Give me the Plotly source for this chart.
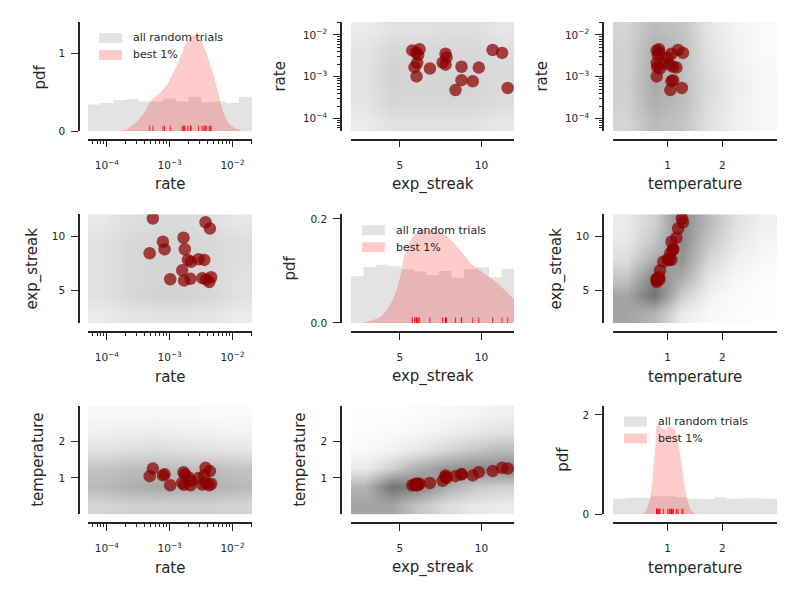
import plotly.graph_objects as go

W, H = 797, 598

variables = ['rate', 'exp_streak', 'temperature']

# best 1% of the random trials
best_rate = [4.27e-3, 4.57e-3, 3.31e-3, 2.14e-3, 1.70e-3, 1.02e-3, 1.58e-3, 3.55e-3, 2.88e-3, 2.19e-3,
             1.95e-3, 1.74e-3, 8.3e-4, 4.8e-4, 7.8e-4, 1.66e-3, 4.37e-3, 3.72e-3, 5.4e-4, 3.8e-3]
best_streak = [5.76, 6.20, 6.12, 6.06, 5.90, 6.02, 6.84, 7.80, 7.86, 7.62,
               7.80, 8.78, 8.78, 8.41, 9.47, 9.84, 10.69, 11.27, 11.61, 6.00]
best_temp = [0.80, 0.84, 0.82, 0.80, 0.81, 0.80, 0.86, 1.07, 1.00, 0.92,
             1.03, 1.10, 1.10, 1.05, 1.07, 1.16, 1.19, 1.28, 1.26, 0.85]

# histograms of all random trials (bin edges + pdf heights)
rate_bins = [5.0e-5, 7.9e-5, 1.26e-4, 2.0e-4, 3.16e-4, 5.0e-4, 7.9e-4, 1.26e-3,
             2.0e-3, 3.16e-3, 5.0e-3, 7.9e-3, 1.26e-2, 2.04e-2]
rate_hist = [0.34, 0.36, 0.40, 0.41, 0.38, 0.38, 0.42, 0.38, 0.44, 0.37, 0.38, 0.36, 0.44]
streak_bins = [2.0, 2.77, 3.54, 4.31, 5.08, 5.85, 6.62, 7.38, 8.15, 8.92, 9.69, 10.46, 11.23, 12.0]
streak_hist = [0.090, 0.107, 0.112, 0.109, 0.103, 0.099, 0.092, 0.100, 0.087, 0.103, 0.107, 0.088, 0.104]
temp_bins = [0.0, 0.23, 0.46, 0.69, 0.92, 1.15, 1.38, 1.62, 1.85, 2.08, 2.31, 2.54, 2.77, 3.0]
temp_hist = [0.31, 0.33, 0.33, 0.36, 0.36, 0.34, 0.31, 0.30, 0.34, 0.31, 0.32, 0.32, 0.31]

# kde of the best 1%
kde_rate_x = [1.45e-4, 2.0e-4, 2.69e-4, 3.89e-4, 5.13e-4, 6.92e-4, 8.91e-4, 1.12e-3, 1.45e-3, 1.74e-3, 2.09e-3,
              2.51e-3, 3.02e-3, 3.80e-3, 4.90e-3, 5.62e-3, 6.76e-3, 8.13e-3, 1.05e-2, 1.35e-2, 1.51e-2]
kde_rate_y = [0.0, 0.02, 0.09, 0.23, 0.40, 0.49, 0.59, 0.74, 0.93, 1.10, 1.20,
              1.23, 1.18, 1.01, 0.74, 0.57, 0.31, 0.14, 0.046, 0.012, 0.0]
kde_streak_x = [2.7, 3.3, 3.84, 4.45, 4.86, 5.06, 5.27, 5.55, 5.96, 6.37, 6.98,
                7.59, 8.2, 8.82, 9.43, 9.96, 10.5, 10.98, 11.5, 12.0]
kde_streak_y = [0.0, 0.005, 0.013, 0.038, 0.07, 0.096, 0.128, 0.152, 0.172, 0.178, 0.178,
                0.173, 0.157, 0.135, 0.113, 0.100, 0.088, 0.077, 0.061, 0.045]
kde_temp_x = [0.52, 0.60, 0.65, 0.69, 0.72, 0.75, 0.78, 0.80, 0.83, 0.87, 0.90, 0.96,
              1.00, 1.04, 1.10, 1.14, 1.18, 1.23, 1.27, 1.33, 1.38, 1.42, 1.48, 1.54]
kde_temp_y = [0.0, 0.07, 0.2, 0.40, 0.7, 1.04, 1.5, 1.78, 1.83, 1.78, 1.72, 1.71,
              1.74, 1.77, 1.75, 1.68, 1.52, 1.2, 0.91, 0.44, 0.22, 0.10, 0.03, 0.0]

# density of the grey cloud of all trials (0 = white, 1 = darkest), on coarse cells
rate_cells = [5.0e-5, 1.35e-4, 3.7e-4, 1.0e-3, 2.7e-3, 7.4e-3, 2.04e-2]
streak_cells = [2.0, 3.7, 5.3, 7.0, 8.7, 10.3, 12.0]
temp_cells = [0.0, 0.5, 1.0, 1.5, 2.0, 2.5, 3.0]
# rows: streak cells, cols: rate cells
rs_density = [[0.12, 0.16, 0.17, 0.17, 0.16, 0.12],
              [0.18, 0.24, 0.27, 0.27, 0.24, 0.18],
              [0.18, 0.24, 0.25, 0.25, 0.24, 0.18],
              [0.18, 0.24, 0.26, 0.25, 0.24, 0.20],
              [0.18, 0.24, 0.25, 0.25, 0.24, 0.20],
              [0.14, 0.20, 0.22, 0.22, 0.20, 0.15]]
# rows: temp cells, cols: rate cells
rt_density = [[0.25, 0.28, 0.28, 0.28, 0.28, 0.26],
              [0.42, 0.48, 0.52, 0.50, 0.48, 0.42],
              [0.36, 0.40, 0.40, 0.38, 0.40, 0.36],
              [0.18, 0.20, 0.22, 0.20, 0.18, 0.16],
              [0.09, 0.10, 0.11, 0.09, 0.08, 0.07],
              [0.04, 0.04, 0.05, 0.04, 0.03, 0.03]]
# rows: temp cells, cols: streak cells
st_density = [[0.55, 0.55, 0.35, 0.20, 0.14, 0.12],
              [0.45, 0.85, 0.75, 0.50, 0.35, 0.28],
              [0.12, 0.30, 0.50, 0.65, 0.70, 0.72],
              [0.04, 0.08, 0.15, 0.25, 0.35, 0.42],
              [0.02, 0.03, 0.05, 0.09, 0.14, 0.18],
              [0.01, 0.01, 0.02, 0.04, 0.06, 0.09]]


def T(m):
    return [list(r) for r in zip(*m)]


best = {'rate': best_rate, 'exp_streak': best_streak, 'temperature': best_temp}
hists = {'rate': (rate_bins, rate_hist), 'exp_streak': (streak_bins, streak_hist),
         'temperature': (temp_bins, temp_hist)}
kdes = {'rate': (kde_rate_x, kde_rate_y), 'exp_streak': (kde_streak_x, kde_streak_y),
        'temperature': (kde_temp_x, kde_temp_y)}
cells = {'rate': rate_cells, 'exp_streak': streak_cells, 'temperature': temp_cells}
dens = {('exp_streak', 'rate'): T(rs_density), ('temperature', 'rate'): T(rt_density),
        ('rate', 'exp_streak'): rs_density, ('temperature', 'exp_streak'): T(st_density),
        ('rate', 'temperature'): rt_density, ('exp_streak', 'temperature'): st_density}
pdf_top = {'rate': 1.40, 'exp_streak': 0.209, 'temperature': 2.19}
pdf_ticks = {'rate': ([0, 1], ['0', '1']), 'exp_streak': ([0, 0.2], ['0.0', '0.2']),
             'temperature': ([0, 2], ['0', '2'])}

# layout in picture pixels; page body has an 8px margin and the shot is squeezed a bit vertically
OFF = 8
SY = 0.99
FW, FH = W - OFF, 582


def fx(x):
    return (x - OFF) / FW


def fy(y):
    return 1 - (y / SY - OFF) / FH


col_x = [(88, 252), (351, 514), (613, 777)]
col_spine = [79, 341, 603]
row_y = [(20, 129.5), (213, 322), (405, 514)]
row_line = [138, 331, 523]

INK = '#262626'
FONT = 'DejaVu Sans'
GREY = 'rgb(227,227,227)'
PINK = 'rgba(255,0,0,0.2)'

log_minor = [m * 10.0 ** e for e in (-5, -4, -3, -2) for m in range(2, 10)]

fig = go.Figure()
layout = dict(width=FW, height=FH, margin=dict(l=0, r=0, t=0, b=0),
              paper_bgcolor='white', plot_bgcolor='white', showlegend=False,
              font=dict(family=FONT, color=INK))
annotations = []
shapes = []


def axis_style(var):
    a = dict(showline=True, linecolor=INK, linewidth=1.5, ticks='outside', ticklen=7,
             tickwidth=1.4, tickcolor=INK, showgrid=False, zeroline=False,
             tickfont=dict(size=10.5, family=FONT, color=INK))
    if var == 'rate':
        a.update(type='log', range=[-4.30, -1.69], tickvals=[1e-4, 1e-3, 1e-2],
                 ticktext=['10<sup>\u22124</sup>', '10<sup>\u22123</sup>', '10<sup>\u22122</sup>'],
                 minor=dict(ticks='outside', ticklen=3.5, tickwidth=1, tickcolor=INK,
                            tickmode='array', tickvals=log_minor, showgrid=False))
    elif var == 'exp_streak':
        a.update(range=[2, 12], tickvals=[5, 10])
    elif var == 'temperature':
        a.update(range=[0, 3], tickvals=[1, 2])
    return a


for r in range(3):
    for c in range(3):
        k = r * 3 + c + 1
        xs = '' if k == 1 else str(k)
        xv, yv = variables[c], variables[r]

        xa = axis_style(xv)
        xa.update(domain=[fx(col_x[c][0]), fx(col_x[c][1])], anchor='free',
                  position=fy(row_line[r]), ticklabelstandoff=9)
        if r == c:
            ya = axis_style('pdf')
            ya.update(range=[0, pdf_top[xv]], tickvals=pdf_ticks[xv][0], ticktext=pdf_ticks[xv][1])
        else:
            ya = axis_style(yv)
        ya.update(domain=[fy(row_y[r][1]), fy(row_y[r][0])], anchor='free',
                  position=fx(col_spine[c]), ticklabelstandoff=4)
        layout['xaxis' + xs] = xa
        layout['yaxis' + xs] = ya

        if r == c:
            edges, heights = hists[xv]
            fig.add_trace(go.Scatter(x=edges, y=heights + [heights[-1]], mode='lines',
                                     line=dict(shape='hv', width=0, color=GREY),
                                     fill='tozeroy', fillcolor=GREY,
                                     xaxis='x' + xs, yaxis='y' + xs, hoverinfo='skip'))
            kx, ky = kdes[xv]
            fig.add_trace(go.Scatter(x=kx, y=ky, mode='lines',
                                     line=dict(shape='spline', width=0, color=PINK),
                                     fill='tozeroy', fillcolor=PINK,
                                     xaxis='x' + xs, yaxis='y' + xs, hoverinfo='skip'))
            h = 0.05 * pdf_top[xv]
            rx, ry = [], []
            for v in best[xv]:
                rx += [v, v, None]
                ry += [0, h, None]
            fig.add_trace(go.Scatter(x=rx, y=ry, mode='lines',
                                     line=dict(color='rgba(255,0,0,0.75)', width=1.2),
                                     xaxis='x' + xs, yaxis='y' + xs, hoverinfo='skip'))
            # legend
            lx = col_x[c][0] + 11
            ly = row_y[r][0] + 11
            for i, (col, txt) in enumerate([(GREY, 'all random trials'), (PINK, 'best 1%')]):
                y0 = ly + i * 17
                shapes.append(dict(type='rect', xref='paper', yref='paper',
                                   x0=fx(lx), x1=fx(lx + 23), y0=fy(y0), y1=fy(y0 + 10),
                                   fillcolor=col, line=dict(width=0)))
                annotations.append(dict(x=fx(lx + 32), y=fy(y0 + 5), xref='paper', yref='paper',
                                        text=txt, showarrow=False, xanchor='left', yanchor='middle',
                                        font=dict(size=11, family=FONT, color=INK)))
        else:
            fig.add_trace(go.Heatmap(x=cells[xv], y=cells[yv], z=dens[(xv, yv)],
                                     zmin=0, zmax=1, zsmooth='best', showscale=False,
                                     colorscale=[[0, 'rgb(255,255,255)'], [1, 'rgb(90,90,90)']],
                                     xaxis='x' + xs, yaxis='y' + xs, hoverinfo='skip'))
            fig.add_trace(go.Scatter(x=best[xv], y=best[yv], mode='markers',
                                     marker=dict(size=12.5, color='rgb(139,0,0)', opacity=0.72,
                                                 line=dict(width=0)),
                                     xaxis='x' + xs, yaxis='y' + xs, hoverinfo='skip'))

        # x axis title
        annotations.append(dict(x=fx((col_x[c][0] + col_x[c][1]) / 2), y=fy(row_line[r] + 45),
                                xref='paper', yref='paper', text=xv, showarrow=False,
                                xanchor='center', yanchor='middle',
                                font=dict(size=15, family=FONT, color=INK)))

y_title_x = [[40, 280, 542], [33, 290, 557], [38, 300, 563]]
for r in range(3):
    for c in range(3):
        txt = 'pdf' if r == c else variables[r]
        annotations.append(dict(x=fx(y_title_x[r][c]), y=fy((row_y[r][0] + row_y[r][1]) / 2),
                                xref='paper', yref='paper', text=txt, showarrow=False, textangle=-90,
                                xanchor='center', yanchor='middle',
                                font=dict(size=15, family=FONT, color=INK)))

layout['annotations'] = annotations
layout['shapes'] = shapes
fig.update_layout(**layout)
fig.write_html("out.html")
